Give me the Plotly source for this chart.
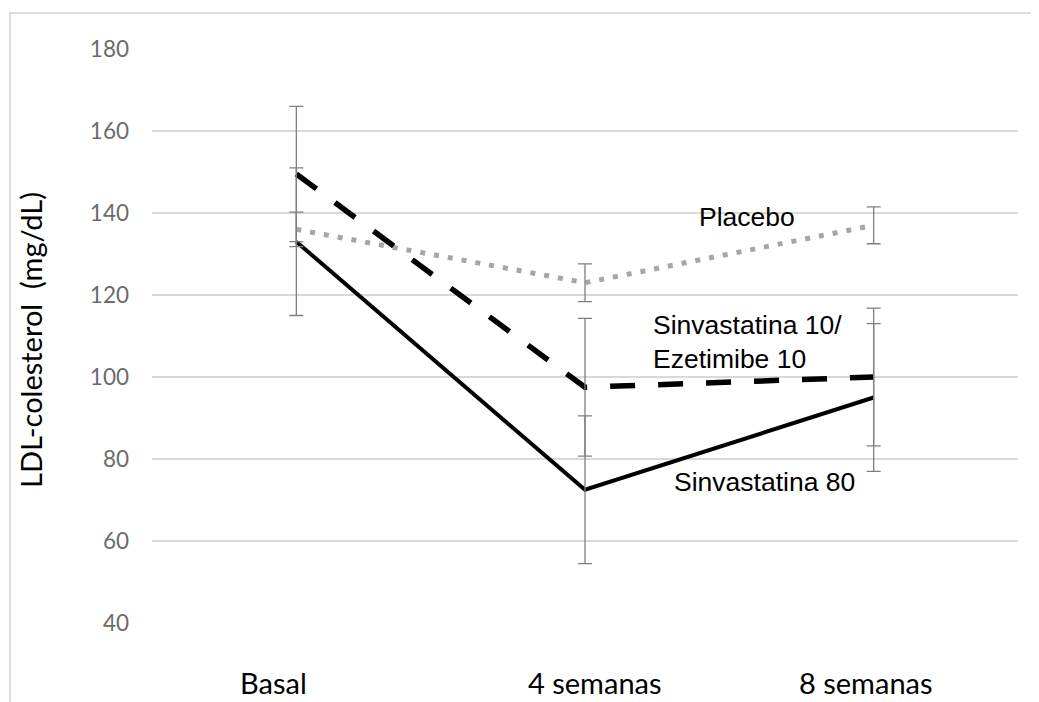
import plotly.graph_objects as go

categories = ["Basal", "4 semanas", "8 semanas"]

sinva80 = [133, 72.5, 95]
sinva80_err = [18, 18, 18]

sinva_eze = [149.5, 97.5, 100]
sinva_eze_err = [16.5, 16.8, 16.8]

placebo = [136, 123, 137]
placebo_err = [4.2, 4.6, 4.5]

y_ticks = [40, 60, 80, 100, 120, 140, 160, 180]

# page body margin offset (browser default 8px)
OFF = 8
W, H = 1039 - OFF, 702 - OFF
L, T = 152 - OFF, 49 - OFF
PW, PH = 866, 574
R = W - L - PW
B = H - T - PH

fig = go.Figure()

fig.add_trace(go.Scatter(x=categories, y=placebo, mode="lines",
                         line=dict(color="#a6a6a6", width=5, dash="5px,9px"),
                         showlegend=False, name="Placebo"))
fig.add_trace(go.Scatter(x=categories, y=sinva80, mode="lines",
                         line=dict(color="#000000", width=4),
                         showlegend=False, name="Sinvastatina 80"))
fig.add_trace(go.Scatter(x=categories, y=sinva_eze, mode="lines",
                         line=dict(color="#000000", width=5.5, dash="25px,23px"),
                         showlegend=False, name="Sinvastatina 10/Ezetimibe 10"))

for vals, errs in [(placebo, placebo_err), (sinva80, sinva80_err), (sinva_eze, sinva_eze_err)]:
    fig.add_trace(go.Scatter(x=categories, y=vals, mode="markers",
                             marker=dict(size=2, opacity=0),
                             error_y=dict(type="data", array=errs, visible=True,
                                          color="#7f7f7f", thickness=1.3, width=7),
                             showlegend=False, hoverinfo="skip"))


def px_x(px):
    return (px - OFF - L) / PW


def px_y(py):
    return (T + PH - (py - OFF)) / PH


# x category labels (placed slightly offset as in the reference)
label_shift = [-23, 10, -8]
for c, s in zip(categories, label_shift):
    fig.add_annotation(x=c, y=px_y(682), xref="x", yref="paper", text=c, showarrow=False,
                       xshift=s, yanchor="middle",
                       font=dict(family="Lato", size=29, color="#000000"))

# series labels
lab_font = dict(family="Liberation Sans", size=26.5, color="#000000")
fig.add_annotation(x=px_x(697), y=px_y(217), xref="paper", yref="paper",
                   text="Placebo", showarrow=False, xanchor="left", yanchor="middle",
                   font=lab_font)
fig.add_annotation(x=px_x(651), y=px_y(342), xref="paper", yref="paper",
                   text="Sinvastatina 10/<br>Ezetimibe 10", showarrow=False,
                   xanchor="left", yanchor="middle", align="left",
                   font=lab_font)
fig.add_annotation(x=px_x(672), y=px_y(482), xref="paper", yref="paper",
                   text="Sinvastatina 80", showarrow=False, xanchor="left", yanchor="middle",
                   font=lab_font)

# y axis title
fig.add_annotation(x=px_x(31), y=px_y(340), xref="paper", yref="paper",
                   text="LDL-colesterol  (mg/dL)", showarrow=False, textangle=-90,
                   xanchor="center", yanchor="middle",
                   font=dict(family="Lato", size=29, color="#000000"))

# outer chart border
fig.add_shape(type="rect", xref="paper", yref="paper",
              x0=px_x(10), y0=px_y(730), x1=px_x(1070), y1=px_y(13),
              line=dict(color="#dcdcdc", width=2), fillcolor="rgba(0,0,0,0)", layer="below")

fig.update_layout(
    width=W, height=H,
    margin=dict(l=L, r=R, t=T, b=B),
    paper_bgcolor="white", plot_bgcolor="white",
    xaxis=dict(type="category", range=[-0.5, 2.5], showgrid=False, zeroline=False,
               showline=False, showticklabels=False, ticks=""),
    yaxis=dict(range=[40, 180], tickvals=y_ticks, showgrid=True, gridcolor="#d9d9d9",
               gridwidth=1.5, zeroline=False, showline=False, ticks="",
               ticklabelstandoff=22,
               tickfont=dict(family="Lato", size=22.5, color="#6b6b6b")),
)

fig.write_html("out.html")
